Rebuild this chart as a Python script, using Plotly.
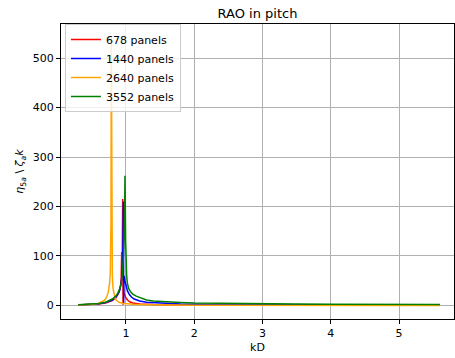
import plotly.graph_objects as go

# ---- data ----
labels = ["678 panels", "1440 panels", "2640 panels", "3552 panels"]
colors = ["red", "blue", "orange", "green"]

kd_678 = [0.30, 0.40, 0.50, 0.60, 0.70, 0.75, 0.80, 0.85, 0.88, 0.90, 0.92, 0.93,
          0.937, 0.944, 0.952, 0.957, 0.962, 0.97, 0.98, 1.00, 1.03, 1.06, 1.10,
          1.20, 1.40, 1.70, 2.0, 2.5, 3.0, 4.0, 5.0, 5.6]
rao_678 = [1.0, 1.4, 2.2, 3.2, 5.2, 7, 10, 15, 21, 27, 40, 55,
           108, 60, 215, 1.5, 35, 25, 20, 15, 10, 7, 5,
           3, 1.8, 1.2, 0.9, 0.7, 0.6, 0.5, 0.45, 0.4]

kd_1440 = [0.30, 0.40, 0.50, 0.60, 0.70, 0.75, 0.80, 0.85, 0.88, 0.91, 0.93, 0.945,
           0.955, 0.962, 0.966, 0.972, 0.985, 1.00, 1.02, 1.05, 1.08, 1.12, 1.20,
           1.30, 1.50, 1.80, 2.2, 3.0, 4.0, 5.0, 5.6]
rao_1440 = [1.2, 1.7, 2.6, 3.7, 5.8, 8, 11, 17, 23, 32, 45, 70,
            120, 210, 5, 60, 50, 38, 30, 22, 17, 13, 9,
            6.5, 4.5, 3, 2.2, 1.5, 1.1, 0.9, 0.8]

kd_2640 = [0.30, 0.40, 0.50, 0.55, 0.60, 0.65, 0.68, 0.70, 0.72, 0.74, 0.75, 0.76,
           0.77, 0.775, 0.78, 0.785, 0.79, 0.795, 0.80, 0.81, 0.82, 0.84, 0.87,
           0.90, 0.95, 1.00, 1.10, 1.20, 1.40, 1.70, 2.0, 2.5, 3.0, 4.0, 5.0, 5.6]
rao_2640 = [0.8, 1.3, 2.2, 3.0, 4.5, 7, 10, 13, 18, 27, 34, 45,
            65, 90, 170, 545, 200, 95, 60, 35, 24, 14, 9,
            6.5, 4.5, 3.5, 2.5, 1.8, 1.2, 0.8, 0.6, 0.45, 0.35, 0.3, 0.25, 0.22]

kd_3552 = [0.30, 0.40, 0.50, 0.60, 0.70, 0.75, 0.80, 0.85, 0.88, 0.91, 0.93, 0.95,
           0.96, 0.97, 0.98, 0.985, 0.99, 0.995, 1.00, 1.01, 1.02, 1.04, 1.07,
           1.10, 1.15, 1.20, 1.30, 1.40, 1.60, 1.80, 2.0, 2.5, 3.0, 3.5, 4.0,
           4.5, 5.0, 5.6]
rao_3552 = [1.5, 2.0, 3.0, 4.2, 6.5, 9, 13, 19, 25, 34, 45, 65,
            85, 120, 190, 262, 200, 130, 90, 60, 45, 34, 27,
            23, 19, 16, 11, 9, 7, 6, 5, 4, 3.5, 3, 2.7,
            2.4, 2.2, 2.0]

xs = [kd_678, kd_1440, kd_2640, kd_3552]
ys = [rao_678, rao_1440, rao_2640, rao_3552]

x_ticks = [1, 2, 3, 4, 5]
y_ticks = [0, 100, 200, 300, 400, 500]

FONT = "DejaVu Sans"

fig = go.Figure()
for x, y, name, c in zip(xs, ys, labels, colors):
    fig.add_trace(go.Scatter(x=x, y=y, mode="lines", name=name,
                             line=dict(color=c, width=1.5)))

fig.update_layout(
    width=455, height=358,
    margin=dict(l=61, r=1, t=24, b=39, autoexpand=False),
    paper_bgcolor="white", plot_bgcolor="white",
    font=dict(family=FONT, size=11, color="black"),
    title=dict(text="RAO in pitch", x=0.5, xref="paper", xanchor="center",
               y=1 - 13 / 358, yref="container", yanchor="middle",
               font=dict(size=13, family=FONT, color="black")),
    showlegend=True,
    legend=dict(x=0.01, y=1.0, xanchor="left", yanchor="top",
                bgcolor="rgba(255,255,255,0.8)", bordercolor="#cccccc",
                borderwidth=1, font=dict(size=11, family=FONT),
                tracegroupgap=0, itemwidth=30),
    hovermode=False,
)

fig.update_xaxes(
    range=[0.048, 5.805], tickvals=x_ticks, ticktext=[str(v) for v in x_ticks],
    showgrid=True, gridcolor="#b0b0b0", gridwidth=0.8,
    showline=True, linecolor="black", linewidth=1, mirror=True,
    ticks="outside", ticklen=4, tickcolor="black", zeroline=False,
    title=dict(text="kD", standoff=4, font=dict(size=11, family=FONT)),
    tickfont=dict(size=11, family=FONT),
)
fig.update_yaxes(
    range=[-27.3, 568.7], tickvals=y_ticks, ticktext=[str(v) for v in y_ticks],
    showgrid=True, gridcolor="#b0b0b0", gridwidth=0.8,
    showline=True, linecolor="black", linewidth=1, mirror=True,
    ticks="outside", ticklen=4, tickcolor="black", zeroline=False,
    title=dict(text="<i>η</i><sub>5<i>a</i></sub> \\ <i>ζ</i><sub><i>a</i></sub><i>k</i>",
               standoff=6, font=dict(size=11, family=FONT)),
    tickfont=dict(size=11, family=FONT),
)

fig.write_html("out.html")
